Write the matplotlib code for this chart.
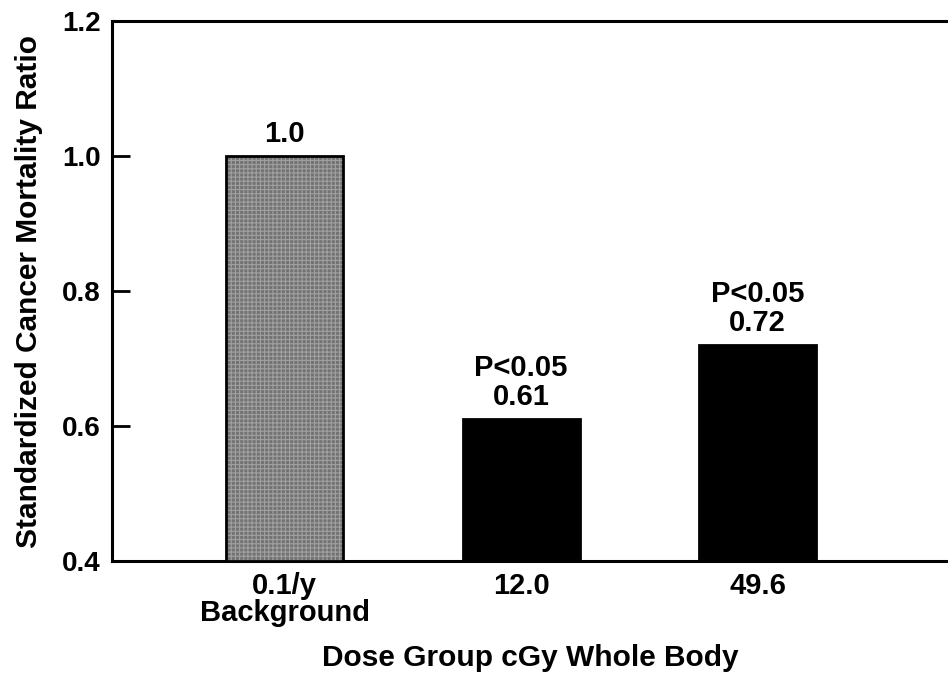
import matplotlib
matplotlib.use("Agg")
import matplotlib.pyplot as plt

# Standardized cancer mortality ratio by dose group
groups = ["0.1/y\nBackground", "12.0", "49.6"]
ratios = [1.0, 0.61, 0.72]
notes = ["", "P<0.05", "P<0.05"]
value_text = ["1.0", "0.61", "0.72"]
y_ticks = [0.4, 0.6, 0.8, 1.0, 1.2]

plt.rcParams["font.family"] = ["Liberation Sans", "DejaVu Sans"]
plt.rcParams["font.weight"] = "bold"
plt.rcParams["hatch.linewidth"] = 0.8

fig = plt.figure(figsize=(9.48, 6.77), dpi=100)
ax = fig.add_axes([0.118, 0.1713, 0.882, 0.7977])

x = list(range(len(groups)))
heights = [r - 0.4 for r in ratios]
colors = ["#737373", "black", "black"]

# filled bars, a light screen over the background bar, then outlines
ax.bar(x, heights, bottom=0.4, width=0.495, color=colors, linewidth=0, zorder=2)
ax.bar(x[:1], heights[:1], bottom=0.4, width=0.495, fill=False,
       hatch="++++", edgecolor="#a0a0a0", linewidth=0, zorder=3)
ax.bar(x, heights, bottom=0.4, width=0.495, fill=False,
       edgecolor="black", linewidth=2, zorder=4)

for i, (r, note, txt) in enumerate(zip(ratios, notes, value_text)):
    label = f"{note}\n{txt}" if note else txt
    ax.annotate(label, (i, r), xytext=(0, 6), textcoords="offset points",
                ha="center", va="bottom", fontsize=21, fontweight="bold",
                linespacing=1.05)

ax.set_xlim(-0.73, 2.805)
ax.set_ylim(0.4, 1.2)
ax.set_yticks(y_ticks)
ax.set_yticklabels([f"{t:.1f}" for t in y_ticks], fontsize=20, fontweight="bold")
ax.set_xticks(x)
ax.set_xticklabels(groups, fontsize=21, fontweight="bold", linespacing=0.95)
ax.tick_params(axis="y", direction="in", length=13, width=2, pad=8)
ax.tick_params(axis="x", length=0, pad=8)

for side in ("left", "top", "bottom"):
    ax.spines[side].set_linewidth(2.2)
ax.spines["right"].set_visible(False)

ax.set_ylabel("Standardized Cancer Mortality Ratio", fontsize=21.5,
              fontweight="bold", labelpad=14)
ax.set_xlabel("Dose Group cGy Whole Body", fontsize=21.5, fontweight="bold",
              labelpad=12)

fig.savefig("out.png", dpi=100)
